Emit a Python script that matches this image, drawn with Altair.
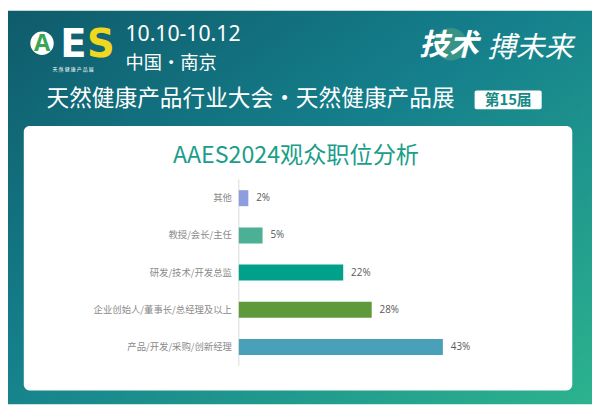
import altair as alt
import pandas as pd

# ---- data ----
categories = ["其他", "教授/会长/主任", "研发/技术/开发总监", "企业创始人/董事长/总经理及以上", "产品/开发/采购/创新经理"]
values = [2, 5, 22, 28, 43]
labels = ["2%", "5%", "22%", "28%", "43%"]
colors = ["#8c9de0", "#4cb094", "#00a08b", "#5f9a3a", "#4ba0b9"]

title_text = "AAES2024观众职位分析"
banner_title = "天然健康产品行业大会·天然健康产品展"
date_text = "10.10-10.12"
place_text = "中国·南京"
badge_text = "第15届"

W, H = 592, 399
CJK = "Noto Sans CJK SC"

df = pd.DataFrame({"cat": categories, "v": values, "lab": labels, "col": colors})
one = pd.DataFrame({"k": [0]})

xscale = alt.Scale(domain=[0, 100], range=[234, 715])
yscale = alt.Scale(domain=categories, range=[171, 360], paddingInner=0.57, paddingOuter=0.29)

# background gradient
bg = alt.Chart(one).mark_rect(
    fill={"gradient": "linear", "x1": 0, "y1": 0, "x2": 1, "y2": 1,
          "stops": [{"offset": 0, "color": "#0f5b6b"},
                    {"offset": 0.45, "color": "#15808c"},
                    {"offset": 1, "color": "#2cb38e"}]}
).encode(x=alt.value(0), x2=alt.value(W), y=alt.value(0), y2=alt.value(H))

card = alt.Chart(one).mark_rect(fill="white", cornerRadius=6).encode(
    x=alt.value(16), x2=alt.value(572), y=alt.value(117), y2=alt.value(385))

def txt(text, x, y, size, color="white", align="left", weight="normal", font=CJK, style="normal", baseline="middle", opacity=1):
    return alt.Chart(one).mark_text(
        text=text, align=align, baseline=baseline, fontSize=size, color=color,
        fontWeight=weight, font=font, fontStyle=style, opacity=opacity
    ).encode(x=alt.value(x), y=alt.value(y))

# logo
logo_circle = alt.Chart(one).mark_circle(size=560, color="white", opacity=1).encode(
    x=alt.value(34.5), y=alt.value(33))
logo_a = txt("A", 34.5, 34, 24, color="#3aa655", align="center", weight="bold", font="Open Sans")
logo_es_e = txt("E", 53, 47, 39, color="white", weight="bold", font="DejaVu Sans", baseline="alphabetic")
logo_es_s = txt("S", 80, 47, 39, color="#f0d81e", weight="bold", font="DejaVu Sans", baseline="alphabetic")
logo_small = txt("天 然 健 康 产 品 展", 66, 59.5, 5, align="center")

date = txt(date_text, 119, 25, 21.5, font="Noto Sans")
place = txt(place_text, 119, 53, 18.5)

glow = alt.Chart(one).mark_circle(size=1100, color="#b8e07a", opacity=0.22).encode(
    x=alt.value(449), y=alt.value(34))
slogan1 = txt("技术", 417, 36, 30, style="italic", weight="bold")
slogan2 = txt("搏未来", 486, 38, 29, style="italic")

btitle = txt(banner_title, 39, 90, 23)
badge = alt.Chart(one).mark_rect(fill="white", cornerRadius=2).encode(
    x=alt.value(473), x2=alt.value(541), y=alt.value(81), y2=alt.value(100))
badge_t = txt(badge_text, 507, 91, 15, color="#178a86", align="center", weight="bold")

ctitle = txt(title_text, 292, 147, 23.5, color="#1a9e8b", align="center")

axis_line = alt.Chart(one).mark_rule(color="#d9d9d9", strokeWidth=1).encode(
    x=alt.value(234), y=alt.value(171), y2=alt.value(360))

bars = alt.Chart(df).mark_bar().encode(
    x=alt.X("v:Q", scale=xscale, axis=None),
    x2=alt.datum(0),
    y=alt.Y("cat:N", scale=yscale, axis=None, sort=categories),
    color=alt.Color("col:N", scale=None, legend=None),
)

val_labels = alt.Chart(df).mark_text(align="left", baseline="middle", dx=8, fontSize=10,
                                     color="#595959", font="Open Sans").encode(
    x=alt.X("v:Q", scale=xscale, axis=None),
    y=alt.Y("cat:N", scale=yscale, axis=None, sort=categories),
    text="lab:N",
)

cat_labels = alt.Chart(df).mark_text(align="right", baseline="middle", fontSize=9.5,
                                     color="#8a8a8a", font=CJK).encode(
    x=alt.value(227),
    y=alt.Y("cat:N", scale=yscale, axis=None, sort=categories),
    text="cat:N",
)

chart = alt.layer(
    bg, card, logo_circle, logo_a, logo_es_e, logo_es_s, logo_small, date, place,
    glow, slogan1, slogan2, btitle, badge, badge_t, ctitle,
    axis_line, bars, val_labels, cat_labels
).properties(width=W, height=H, padding=0).configure_view(stroke=None)

chart.save("out.html", embed_options={"renderer": "svg", "actions": False})
